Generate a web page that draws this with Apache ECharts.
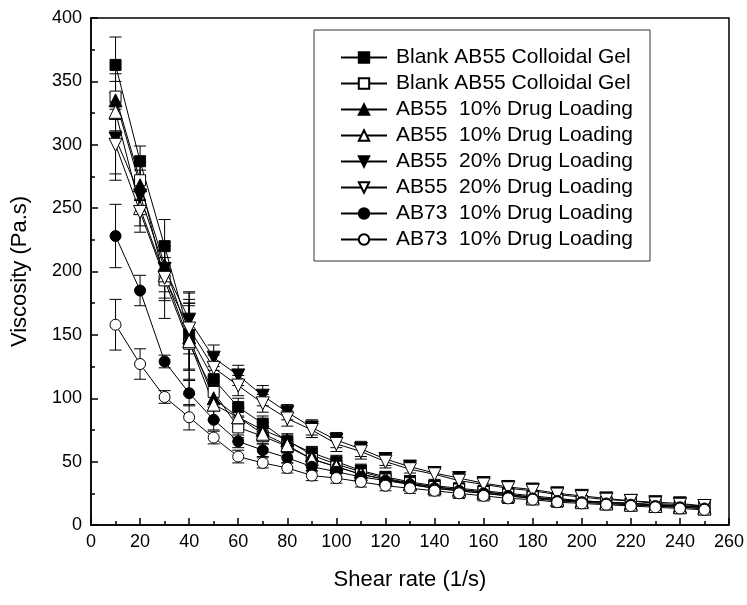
<!DOCTYPE html>
<html>
<head>
<meta charset="utf-8">
<script src="https://cdn.jsdelivr.net/npm/echarts@6/dist/echarts.min.js"></script>
<style>
html,body{margin:0;padding:0;background:#fff;}
#chart{width:747px;height:605px;}
</style>
</head>
<body>
<div id="chart"></div>
<script>
const shearRate = [10,20,30,40,50,60,70,80,90,100,110,120,130,140,150,160,170,180,190,200,210,220,230,240,250];
const xTicks = [0,20,40,60,80,100,120,140,160,180,200,220,240,260];
const yTicks = [0,50,100,150,200,250,300,350,400];

const labels = [
  'Blank AB55 Colloidal Gel',
  'Blank AB55 Colloidal Gel',
  'AB55  10% Drug Loading',
  'AB55  10% Drug Loading',
  'AB55  20% Drug Loading',
  'AB55  20% Drug Loading',
  'AB73  10% Drug Loading',
  'AB73  10% Drug Loading'
];

// viscosity values (Pa.s)
const blankFilled   = [363,287,220,150,115,93,80,66,57,50,43,38,34,31,29,27,25,23,21,19,18,17,16,15,14];
const blankOpen     = [338,272,193,143,105,77,70,62,52,46,40,36,33,30,28,26,24,22,20,19,18,17,16,15,14];
const ab55d10Filled = [335,268,205,148,100,85,75,67,55,48,42,37,33,30,28,26,24,22,20,19,18,17,16,15,14];
const ab55d10Open   = [326,250,197,145,95,85,72,63,52,46,40,36,32,29,27,25,23,21,20,18,17,16,15,14,13];
const ab55d20Filled = [305,260,202,162,132,118,102,89,77,67,60,52,46,41,37,33,30,28,25,23,21,19,18,17,15];
const ab55d20Open   = [300,247,195,155,124,110,96,84,75,64,58,50,44,40,35,32,29,27,24,22,20,19,17,16,15];
const ab73d10Filled = [228,185,129,104,83,66,59,53,46,42,38,35,32,29,27,25,23,21,19,18,17,16,15,14,13];
const ab73d10Open   = [158,127,101,85,69,54,49,45,39,37,34,31,29,27,25,23,21,20,18,17,16,15,14,13,12];

// error bar half-widths (Pa.s)
const errBlankFilled   = [22,12,21,28,10,7,6,5,5,5,5,4,4,4,4,4,4,4,4,4,4,4,5,5,5];
const errBlankOpen     = [18,15,30,40,12,8,6,5,5,5,4,4,4,4,4,4,4,4,4,4,4,4,4,4,4];
const errAb55d10Filled = [15,12,15,25,10,7,6,5,5,5,4,4,4,4,4,4,4,4,4,4,4,4,4,4,4];
const errAb55d10Open   = [15,14,20,30,12,8,6,5,5,5,4,4,4,4,4,4,4,4,4,4,4,4,4,4,4];
const errAb55d20Filled = [28,14,18,22,10,8,8,6,6,6,6,5,5,5,5,5,5,4,4,4,4,4,4,5,5];
const errAb55d20Open   = [28,16,16,20,10,8,7,6,6,6,6,5,5,5,5,5,5,4,4,4,4,4,4,5,5];
const errAb73d10Filled = [25,12,5,10,8,5,5,4,4,4,4,4,4,4,4,4,4,4,4,4,4,4,4,4,4];
const errAb73d10Open   = [20,12,5,10,5,5,4,4,4,4,4,4,4,4,4,4,4,4,4,4,4,4,4,4,4];

const values = [blankFilled, blankOpen, ab55d10Filled, ab55d10Open, ab55d20Filled, ab55d20Open, ab73d10Filled, ab73d10Open];
const errors = [errBlankFilled, errBlankOpen, errAb55d10Filled, errAb55d10Open, errAb55d20Filled, errAb55d20Open, errAb73d10Filled, errAb73d10Open];
const symbols = ['rect','rect','triangle','triangle','triangle','triangle','circle','circle'];
const rotates = [0,0,0,0,180,180,0,0];
const filled = [true,false,true,false,true,false,true,false];

const FONT = "'Liberation Sans', Arial, sans-serif";
const seriesNames = labels.map((l,i)=>'S'+(i+1));

const series = [];
values.forEach((vals, i) => {
  series.push({
    type: 'custom',
    name: seriesNames[i] + '_err',
    z: 1,
    silent: true,
    data: shearRate.map((x, k) => [x, vals[k] - errors[i][k], vals[k] + errors[i][k]]),
    encode: {x: 0, y: [1, 2]},
    renderItem: function (params, api) {
      const x = api.value(0);
      const lo = api.coord([x, api.value(1)]);
      const hi = api.coord([x, api.value(2)]);
      const hw = 6;
      const st = {stroke: '#000', lineWidth: 1};
      return {
        type: 'group',
        children: [
          {type: 'line', shape: {x1: lo[0], y1: lo[1], x2: hi[0], y2: hi[1]}, style: st},
          {type: 'line', shape: {x1: hi[0]-hw, y1: hi[1], x2: hi[0]+hw, y2: hi[1]}, style: st},
          {type: 'line', shape: {x1: lo[0]-hw, y1: lo[1], x2: lo[0]+hw, y2: lo[1]}, style: st}
        ]
      };
    }
  });
});
values.forEach((vals, i) => {
  series.push({
    type: 'line',
    name: seriesNames[i],
    z: 3,
    data: shearRate.map((x, k) => [x, vals[k]]),
    symbol: symbols[i],
    symbolRotate: rotates[i],
    symbolSize: symbols[i] === 'triangle' ? 13 : 11,
    showAllSymbol: true,
    lineStyle: {color: '#000', width: 1},
    itemStyle: {color: filled[i] ? '#000' : '#fff', borderColor: '#000', borderWidth: 1},
    emphasis: {disabled: true},
    animation: false
  });
});

const chart = echarts.init(document.getElementById('chart'), null, {renderer: 'canvas'});
chart.setOption({
  animation: false,
  backgroundColor: '#fff',
  textStyle: {fontFamily: FONT},
  grid: {left: 91, right: 12, top: 18, bottom: 80, show: true, borderColor: '#000', borderWidth: 1.5, backgroundColor: 'transparent'},
  legend: {
    orient: 'vertical',
    left: 314,
    top: 30,
    data: seriesNames,
    formatter: function (name) { return labels[seriesNames.indexOf(name)]; },
    itemWidth: 46,
    itemHeight: 13,
    itemGap: 5,
    padding: [17, 17, 11, 26],
    borderColor: '#333',
    borderWidth: 1,
    symbolRotate: 'inherit',
    textStyle: {fontSize: 21, color: '#000', fontFamily: FONT, padding: [0, 0, 0, 4]},
    selectedMode: false
  },
  xAxis: {
    type: 'value',
    min: 0, max: 260, interval: 20,
    name: 'Shear rate (1/s)',
    nameLocation: 'middle',
    nameGap: 44,
    nameTextStyle: {fontSize: 22, color: '#000', fontFamily: FONT},
    axisLine: {show: true, onZero: false, lineStyle: {color: '#000', width: 1.5}},
    axisTick: {show: true, inside: true, length: 7, lineStyle: {color: '#000', width: 1.5}},
    minorTick: {show: true, splitNumber: 2, length: 4, lineStyle: {color: '#000', width: 1.5}},
    axisLabel: {fontSize: 18, color: '#000', margin: 8, fontFamily: FONT,
      formatter: v => xTicks.includes(v) ? String(v) : ''},
    splitLine: {show: false}
  },
  yAxis: {
    type: 'value',
    min: 0, max: 400, interval: 50,
    name: 'Viscosity (Pa.s)',
    nameLocation: 'middle',
    nameGap: 60,
    nameTextStyle: {fontSize: 22, color: '#000', fontFamily: FONT},
    axisLine: {show: true, onZero: false, lineStyle: {color: '#000', width: 1.5}},
    axisTick: {show: true, inside: true, length: 7, lineStyle: {color: '#000', width: 1.5}},
    minorTick: {show: true, splitNumber: 2, length: 4, lineStyle: {color: '#000', width: 1.5}},
    axisLabel: {fontSize: 18, color: '#000', margin: 9, fontFamily: FONT,
      formatter: v => yTicks.includes(v) ? String(v) : ''},
    splitLine: {show: false}
  },
  series: series
});
</script>
</body>
</html>
